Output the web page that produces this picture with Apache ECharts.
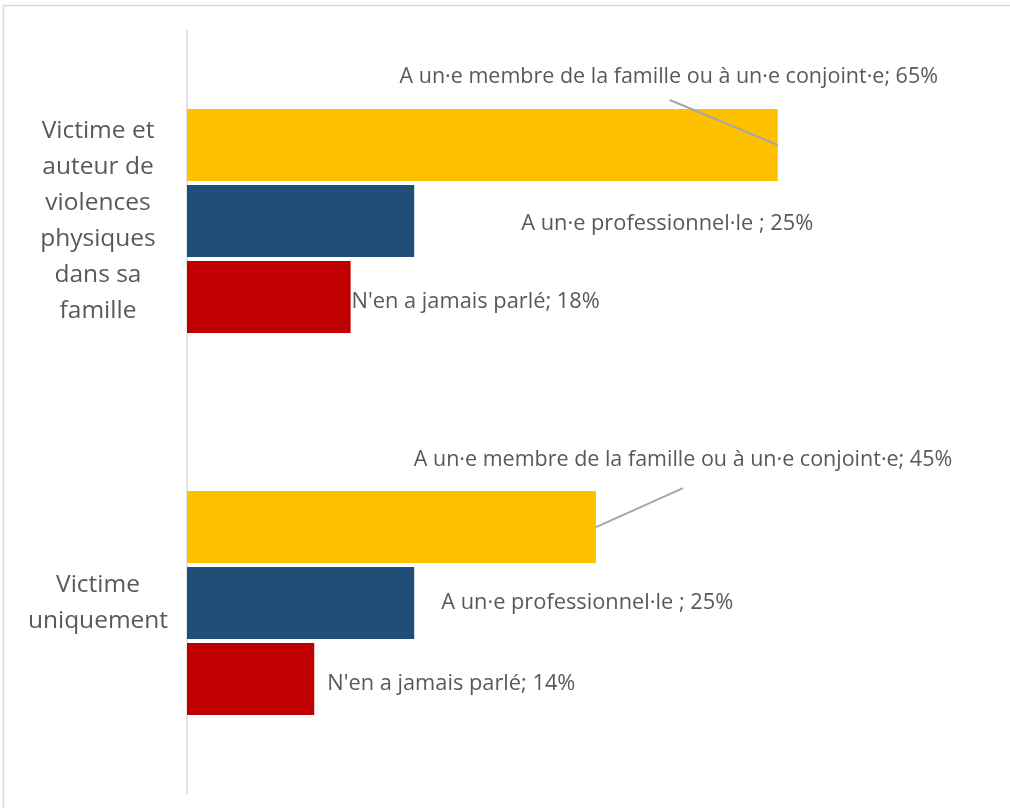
<!DOCTYPE html>
<html>
<head>
<meta charset="utf-8">
<script src="https://cdn.jsdelivr.net/npm/echarts@6/dist/echarts.min.js"></script>
<style>
  html, body { margin: 0; padding: 0; background: #ffffff; }
  #chart { width: 1010px; height: 808px; }
</style>
</head>
<body>
<div id="chart"></div>
<script>
// Groups on the vertical axis, top to bottom
const categories = [
  'Victime et\nauteur de\nviolences\nphysiques\ndans sa\nfamille',
  'Victime\nuniquement'
];

// Series names (used in the value labels)
const seriesNames = [
  'A un·e membre de la famille ou à un·e conjoint·e',
  'A un·e professionnel·le ',
  "N'en a jamais parlé"
];

// Shares in percent, one value per group
const famille = [65, 45];
const professionnel = [25, 25];
const jamaisParle = [18, 14];

const seriesValues = [famille, professionnel, jamaisParle];
const seriesColors = ['#FFC000', '#1F4E79', '#C00000'];

// Label placement relative to the end of each bar: [dx, dy]
const labelOffsets = [
  [[-109, -68], [87, -67]],
  [[107, 3], [27, 0]],
  [[1, 5], [13, 5]]
];
const labelAligns = ['center', 'left', 'left'];
// Leader line end points (relative to the bar end) for the first series
const leaderEnds = [[-108, -45], [87, -39]];

const FONT = '"Open Sans", Lato, sans-serif';
const GREY = '#595959';

const chart = echarts.init(document.getElementById('chart'), null, { renderer: 'canvas' });

const series = seriesValues.map((vals, s) => ({
  name: seriesNames[s],
  type: 'bar',
  barWidth: 72,
  barGap: '5.5%',
  itemStyle: { color: seriesColors[s] },
  emphasis: { disabled: true },
  data: vals.map((v, i) => ({
    value: v,
    label: {
      show: true,
      position: ['100%', '50%'],
      offset: labelOffsets[s][i],
      align: labelAligns[s],
      verticalAlign: 'middle',
      formatter: '{a}; {c}%',
      color: GREY,
      fontFamily: FONT,
      fontSize: s === 0 ? 21.5 : 21.8
    }
  }))
}));

chart.setOption({
  animation: false,
  backgroundColor: '#ffffff',
  grid: { left: 187, top: 30, width: 818, height: 764, containLabel: false },
  xAxis: {
    type: 'value',
    min: 0,
    max: 90,
    show: false,
    splitLine: { show: false }
  },
  yAxis: {
    type: 'category',
    inverse: true,
    data: categories,
    axisLine: { show: true, lineStyle: { color: '#D9D9D9', width: 1.5 } },
    axisTick: { show: false },
    axisLabel: {
      align: 'center',
      margin: 89,
      color: GREY,
      fontFamily: FONT,
      fontSize: 24.5,
      lineHeight: 36
    }
  },
  series: series
});

// Leader lines from the end of the first-series bars to their labels
const layoutData = chart.getModel().getSeriesByIndex(0).getData();
const graphics = [{
  type: 'rect',
  silent: true,
  shape: { x: 3.5, y: 5.5, width: 1030, height: 830 },
  style: { fill: null, stroke: '#D9D9D9', lineWidth: 1.5 }
}];
famille.forEach((v, i) => {
  const l = layoutData.getItemLayout(i);
  const x0 = l.x + l.width;
  const y0 = l.y + l.height / 2;
  graphics.push({
    type: 'line',
    silent: true,
    z: 10,
    shape: { x1: x0, y1: y0, x2: x0 + leaderEnds[i][0], y2: y0 + leaderEnds[i][1] },
    style: { stroke: '#A6A6A6', lineWidth: 2 }
  });
});
chart.setOption({ graphic: graphics });
</script>
</body>
</html>
